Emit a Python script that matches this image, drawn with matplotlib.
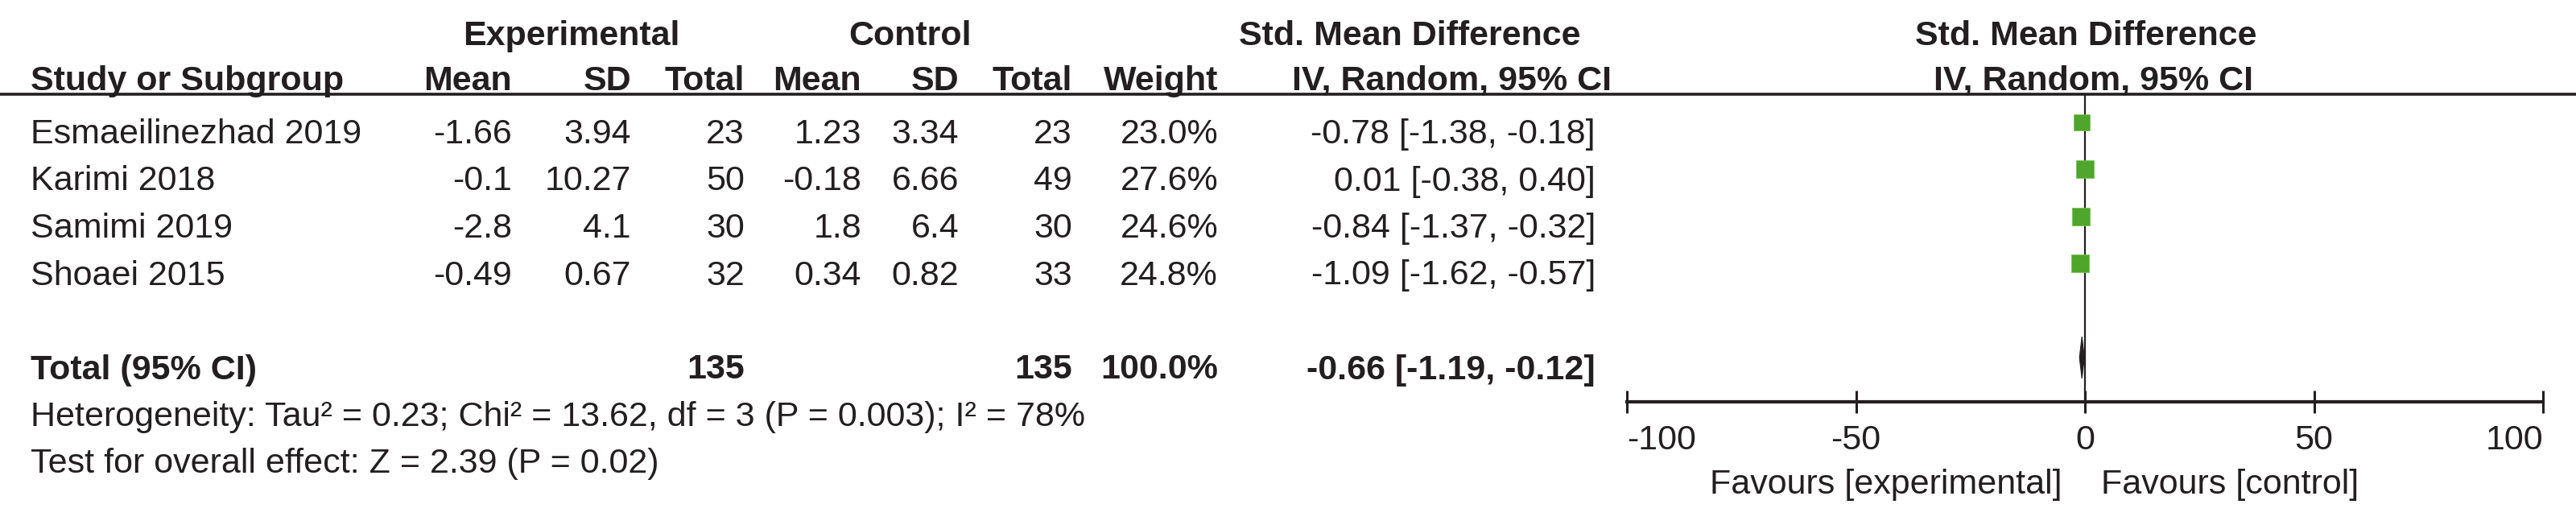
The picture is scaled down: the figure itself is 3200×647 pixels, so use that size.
"""Forest plot: standardised mean difference, experimental vs control (4 studies)."""
import matplotlib

matplotlib.use("Agg")
import matplotlib.pyplot as plt
import numpy as np

# ---------------------------------------------------------------------------
# Data
# ---------------------------------------------------------------------------
studies   = ["Esmaeilinezhad 2019", "Karimi 2018", "Samimi 2019", "Shoaei 2015"]
exp_mean  = [-1.66, -0.1, -2.8, -0.49]
exp_sd    = [3.94, 10.27, 4.1, 0.67]
exp_n     = [23, 50, 30, 32]
ctl_mean  = [1.23, -0.18, 1.8, 0.34]
ctl_sd    = [3.34, 6.66, 6.4, 0.82]
ctl_n     = [23, 49, 30, 33]
weights   = [23.0, 27.6, 24.6, 24.8]
smd       = [-0.78, 0.01, -0.84, -1.09]
ci_lo     = [-1.38, -0.38, -1.37, -1.62]
ci_hi     = [-0.18, 0.40, -0.32, -0.57]

total_exp_n   = 135
total_ctl_n   = 135
total_weight  = 100.0
pooled        = -0.66
pooled_lo     = -1.19
pooled_hi     = -0.12

tau2, chi2, df_het, p_het, i2 = 0.23, 13.62, 3, 0.003, 78
z_val, p_val = 2.39, 0.02

x_ticks = [-100, -50, 0, 50, 100]

# ---------------------------------------------------------------------------
# Layout (figure pixels)
# ---------------------------------------------------------------------------
W, H = 3200, 647
BASE0 = 178          # baseline of first study row
STEP = 58.5          # row spacing
MARK_UP = 26.5       # marker centre sits this far above the baseline
HEAD1 = 56           # baseline of group headers
HEAD2 = 112          # baseline of column headers
RULE_Y = 117         # header rule
AXIS_Y = 499         # forest axis line

X_STUDY = 38
X_EMEAN, X_ESD, X_EN = 636, 784, 925
X_CMEAN, X_CSD, X_CN = 1070, 1191, 1332
X_W = 1513
X_CI = 1982

AX_L, AX_R = 2021, 3159   # pixel x of -100 and 100

FS = 31
INK = "#231f20"
GREEN = "#4fa62a"

plt.rcParams.update({
    "font.family": ["Liberation Sans", "DejaVu Sans"],
    "font.size": FS,
    "text.color": INK,
})


def row_base(k):
    return BASE0 + STEP * k


fig = plt.figure(figsize=(W / 100, H / 100), dpi=100)
fig.patch.set_facecolor("white")

# --- table part -------------------------------------------------------------
tab = fig.add_axes([0, 0, 1, 1])
tab.set_xlim(0, W)
tab.set_ylim(H, 0)
tab.axis("off")

bold = dict(fontweight="bold", va="baseline")
tab.text(710, HEAD1, "Experimental", ha="center", **bold)
tab.text(1131, HEAD1, "Control", ha="center", **bold)
tab.text(1751, HEAD1, "Std. Mean Difference", ha="center", **bold)
tab.text(2591, HEAD1, "Std. Mean Difference", ha="center", **bold)

tab.text(X_STUDY, HEAD2, "Study or Subgroup", ha="left", **bold)
for x, s in [(X_EMEAN, "Mean"), (X_ESD, "SD"), (X_EN, "Total"),
             (X_CMEAN, "Mean"), (X_CSD, "SD"), (X_CN, "Total"),
             (X_W, "Weight"), (2002, "IV, Random, 95% CI")]:
    tab.text(x, HEAD2, s, ha="right", **bold)
tab.text(2601, HEAD2, "IV, Random, 95% CI", ha="center", **bold)

tab.plot([0, W], [RULE_Y, RULE_Y], color=INK, lw=2.6, solid_capstyle="butt")

for k, name in enumerate(studies):
    y = row_base(k)
    tab.text(X_STUDY, y, name, ha="left", va="baseline")
    cells = [
        (X_EMEAN, f"{exp_mean[k]:g}"), (X_ESD, f"{exp_sd[k]:g}"), (X_EN, f"{exp_n[k]}"),
        (X_CMEAN, f"{ctl_mean[k]:g}"), (X_CSD, f"{ctl_sd[k]:g}"), (X_CN, f"{ctl_n[k]}"),
        (X_W, f"{weights[k]:.1f}%"),
        (X_CI, f"{smd[k]:.2f} [{ci_lo[k]:.2f}, {ci_hi[k]:.2f}]"),
    ]
    for x, s in cells:
        tab.text(x, y, s, ha="right", va="baseline")

y_tot = row_base(5)
tab.text(X_STUDY, y_tot, "Total (95% CI)", ha="left", **bold)
tab.text(X_EN, y_tot, f"{total_exp_n}", ha="right", **bold)
tab.text(X_CN, y_tot, f"{total_ctl_n}", ha="right", **bold)
tab.text(X_W, y_tot, f"{total_weight:.1f}%", ha="right", **bold)
tab.text(X_CI, y_tot, f"{pooled:.2f} [{pooled_lo:.2f}, {pooled_hi:.2f}]", ha="right", **bold)

tab.text(X_STUDY, row_base(6),
         f"Heterogeneity: Tau² = {tau2:.2f}; Chi² = {chi2:.2f}, df = {df_het} "
         f"(P = {p_het:g}); I² = {i2}%", ha="left", va="baseline")
tab.text(X_STUDY, row_base(7),
         f"Test for overall effect: Z = {z_val:.2f} (P = {p_val:.2f})",
         ha="left", va="baseline")

tab.text(2562, 613, "Favours [experimental]", ha="right", va="baseline")
tab.text(2610, 613, "Favours [control]", ha="left", va="baseline")

# --- forest part ------------------------------------------------------------
ax = fig.add_axes([AX_L / W, 0, (AX_R - AX_L) / W, 1])
ax.set_xlim(-100, 100)
ax.set_ylim(H, 0)
ax.patch.set_visible(False)
for side in ("top", "left", "right"):
    ax.spines[side].set_visible(False)
ax.spines["bottom"].set_position(("data", AXIS_Y))
ax.spines["bottom"].set_linewidth(3.0)
ax.spines["bottom"].set_color(INK)
ax.set_yticks([])
ax.set_xticks(x_ticks)
ax.set_xticklabels([f"{t}" for t in x_ticks])
ax.tick_params(axis="x", direction="inout", length=20, width=2.2, color=INK,
               labelsize=FS, labelcolor=INK, pad=10)
ticks = ax.xaxis.get_major_ticks()
ticks[0].label1.set_horizontalalignment("left")
ticks[-1].label1.set_horizontalalignment("right")

# line of no effect
ax.plot([0, 0], [RULE_Y, AXIS_Y], color=INK, lw=1.6, zorder=2)

# study estimates
ys = np.array([row_base(k) - MARK_UP for k in range(len(studies))])
ax.hlines(ys, ci_lo, ci_hi, color=INK, lw=1.2, zorder=3)
sizes = 3.15 * np.sqrt(np.array(weights))
for x, y, s in zip(smd, ys, sizes):
    ax.plot(x, y, marker="s", ms=s, color=GREEN, mec="#7cc05a", mew=0.6,
            ls="none", zorder=4)

# pooled diamond
yd = y_tot - MARK_UP
hd = 26
ax.fill([pooled_lo, pooled, pooled_hi, pooled], [yd, yd - hd, yd, yd + hd],
        color=INK, lw=0.8, zorder=4)

fig.savefig("out.png", dpi=100, facecolor="white")
